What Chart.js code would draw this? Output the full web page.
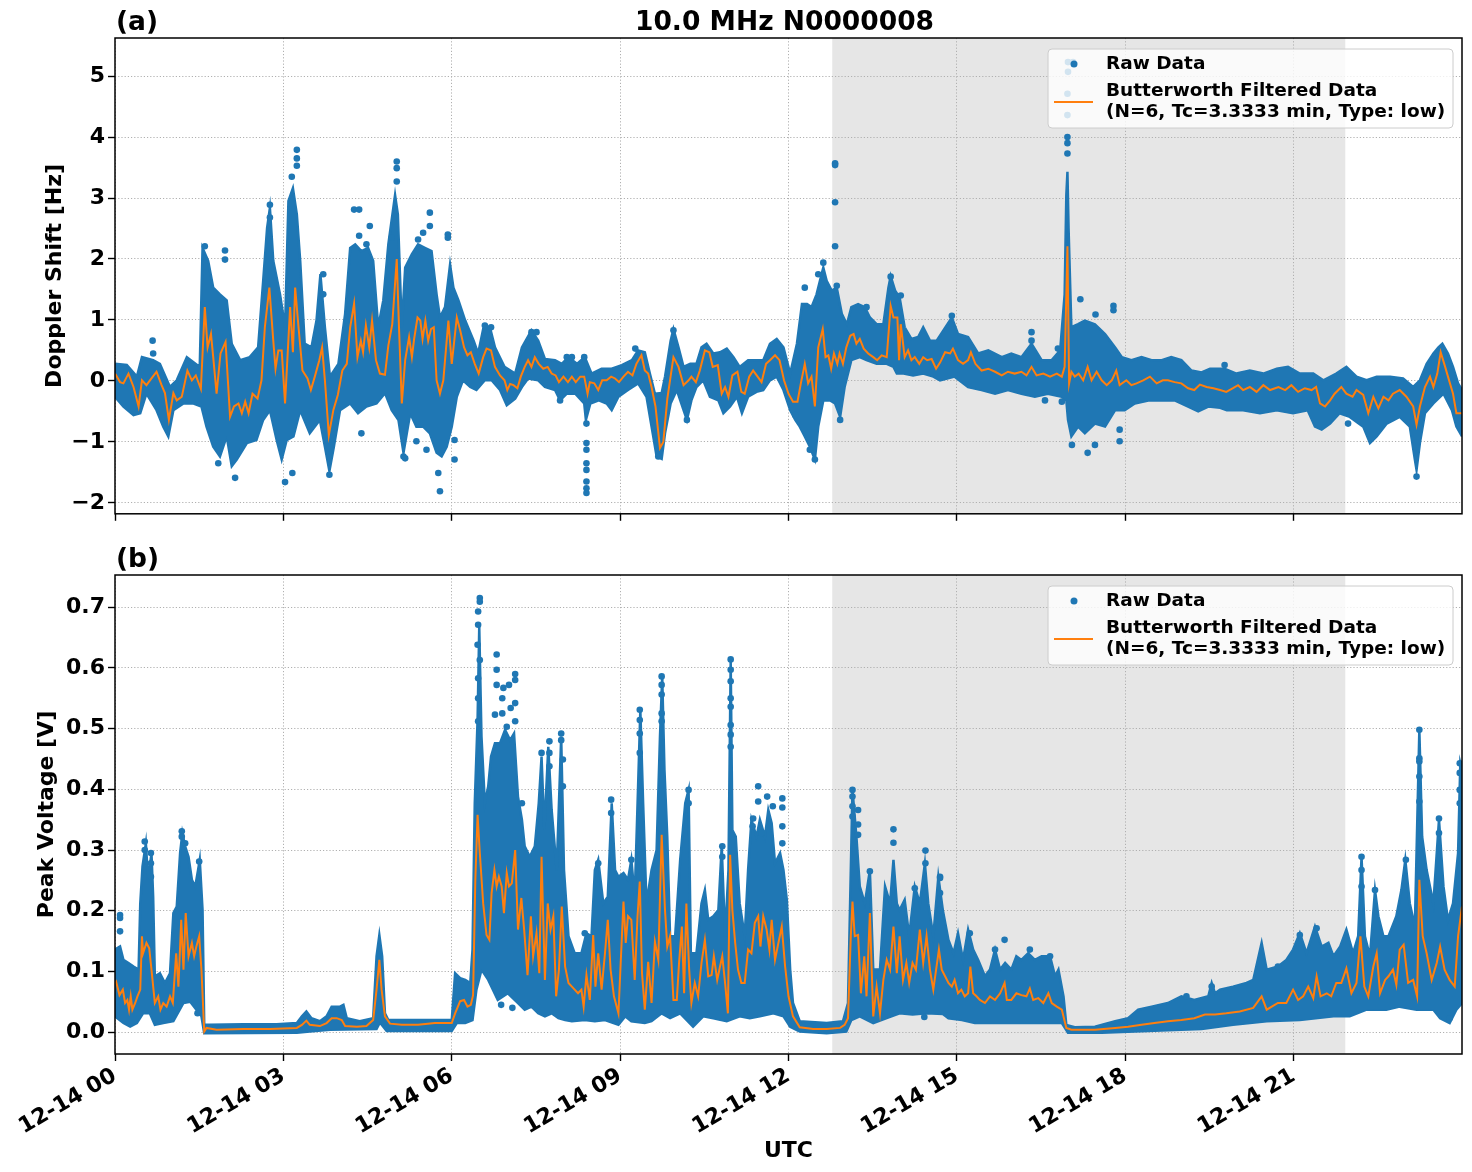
<!DOCTYPE html>
<html><head><meta charset="utf-8">
<script src="https://cdn.jsdelivr.net/npm/chart.js@4.4.1/dist/chart.umd.min.js"></script>
<style>
html,body{margin:0;padding:0;background:#fff;}
#wrap{position:relative;width:1472px;height:1172px;overflow:hidden;}
canvas{position:absolute;left:0;}
#cA{top:0;}
#cB{top:530px;}
</style></head><body>
<div id="wrap"><canvas id="cA" width="1472" height="530"></canvas><canvas id="cB" width="1472" height="642"></canvas></div>
<script>
// ---------------- DATA (hours after 12-14 00 UTC) ----------------
const tickHours = [0,3,6,9,12,15,18,21];
const tickLabels = ['12-14 00','12-14 03','12-14 06','12-14 09','12-14 12','12-14 15','12-14 18','12-14 21'];
const nightSpan = [12.78, 21.92];
const mainTitle = '10.0 MHz N0000008';
const legendRaw = 'Raw Data';
const legendFilt = ['Butterworth Filtered Data','(N=6, Tc=3.3333 min, Type: low)'];
const dopplerTicks = [-2,-1,0,1,2,3,4,5];
const voltTicks = [0,0.1,0.2,0.3,0.4,0.5,0.6,0.7];

// Panel (a): Doppler shift [Hz]
const dopplerFiltered = [[0.0,0.12],[0.09,-0.02],[0.15,-0.04],[0.24,0.12],[0.33,-0.1],[0.42,-0.42],[0.48,0.01],[0.56,-0.07],[0.65,0.04],[0.74,0.15],[0.83,-0.07],[0.89,-0.2],[0.96,-0.64],[1.04,-0.2],[1.1,-0.32],[1.19,-0.26],[1.29,0.17],[1.37,0.01],[1.44,0.09],[1.53,-0.13],[1.6,1.21],[1.65,0.55],[1.71,0.77],[1.75,0.39],[1.81,-0.21],[1.88,0.45],[1.97,0.64],[2.05,-0.59],[2.12,-0.42],[2.2,-0.37],[2.26,-0.53],[2.32,-0.34],[2.38,-0.53],[2.45,-0.21],[2.54,-0.29],[2.61,0.01],[2.67,0.88],[2.75,1.53],[2.82,0.66],[2.86,0.2],[2.91,0.5],[2.97,0.5],[3.03,-0.37],[3.12,1.21],[3.17,0.47],[3.21,1.53],[3.27,0.88],[3.34,0.17],[3.43,0.04],[3.49,-0.15],[3.56,0.07],[3.64,0.34],[3.69,0.55],[3.74,0.01],[3.81,-0.89],[3.89,-0.48],[3.97,-0.23],[4.05,0.17],[4.13,0.28],[4.19,0.88],[4.26,1.27],[4.32,0.39],[4.38,0.66],[4.42,0.47],[4.47,0.91],[4.53,0.55],[4.58,0.99],[4.65,0.34],[4.72,0.12],[4.81,0.1],[4.87,0.58],[4.94,0.93],[5.02,2.0],[5.06,0.88],[5.11,-0.37],[5.17,0.34],[5.24,0.72],[5.29,0.39],[5.33,0.69],[5.39,1.04],[5.44,0.99],[5.48,0.69],[5.53,0.99],[5.58,0.66],[5.63,0.85],[5.68,0.88],[5.73,0.01],[5.79,-0.21],[5.85,0.01],[5.94,0.99],[6.0,0.28],[6.09,1.04],[6.15,0.83],[6.22,0.55],[6.28,0.42],[6.34,0.47],[6.41,0.28],[6.48,0.12],[6.56,0.39],[6.62,0.53],[6.7,0.5],[6.77,0.23],[6.86,0.09],[6.94,0.01],[6.99,-0.15],[7.04,-0.05],[7.1,-0.07],[7.17,-0.12],[7.23,0.07],[7.3,0.23],[7.36,0.34],[7.42,0.23],[7.48,0.39],[7.55,0.28],[7.63,0.2],[7.71,0.23],[7.78,0.12],[7.85,0.09],[7.91,-0.02],[7.99,0.07],[8.07,-0.02],[8.14,0.07],[8.21,-0.02],[8.29,0.07],[8.36,0.07],[8.42,-0.21],[8.46,-0.02],[8.54,-0.04],[8.61,-0.15],[8.68,0.01],[8.76,0.01],[8.84,0.07],[8.91,0.04],[8.98,-0.02],[9.06,0.07],[9.14,0.15],[9.22,0.09],[9.29,0.28],[9.38,0.42],[9.44,0.17],[9.5,0.12],[9.56,-0.1],[9.63,-0.42],[9.71,-1.1],[9.77,-1.0],[9.84,-0.3],[9.95,0.39],[10.04,0.23],[10.13,-0.07],[10.22,0.01],[10.27,0.07],[10.35,-0.02],[10.42,0.17],[10.51,0.5],[10.59,0.47],[10.65,0.23],[10.74,0.26],[10.81,-0.21],[10.87,-0.1],[10.93,-0.26],[11.0,0.09],[11.09,0.15],[11.16,-0.18],[11.22,-0.21],[11.3,0.07],[11.37,0.17],[11.45,0.07],[11.52,-0.02],[11.6,0.28],[11.67,0.34],[11.76,0.42],[11.84,0.34],[11.92,0.01],[12.0,-0.21],[12.08,-0.34],[12.16,-0.34],[12.22,-0.04],[12.29,0.28],[12.35,-0.04],[12.41,0.07],[12.47,-0.42],[12.53,0.55],[12.61,0.85],[12.66,0.39],[12.71,0.42],[12.76,0.2],[12.81,0.45],[12.87,0.28],[12.91,0.45],[12.97,0.28],[13.03,0.55],[13.1,0.74],[13.16,0.77],[13.21,0.61],[13.27,0.69],[13.34,0.53],[13.42,0.45],[13.51,0.39],[13.58,0.34],[13.66,0.42],[13.75,0.39],[13.82,1.23],[13.87,1.04],[13.94,1.04],[13.97,0.34],[14.0,0.93],[14.07,0.39],[14.13,0.5],[14.19,0.34],[14.25,0.39],[14.33,0.28],[14.4,0.39],[14.47,0.34],[14.55,0.36],[14.63,0.2],[14.7,0.3],[14.79,0.47],[14.88,0.45],[14.93,0.53],[15.02,0.34],[15.11,0.28],[15.2,0.34],[15.25,0.47],[15.33,0.28],[15.44,0.17],[15.56,0.2],[15.68,0.15],[15.8,0.09],[15.91,0.15],[16.03,0.12],[16.15,0.15],[16.24,0.09],[16.33,0.23],[16.42,0.09],[16.54,0.12],[16.66,0.07],[16.78,0.12],[16.87,0.07],[16.92,0.23],[16.97,2.21],[17.0,-0.04],[17.04,0.15],[17.1,0.07],[17.17,0.12],[17.25,0.01],[17.33,0.23],[17.4,0.01],[17.49,0.15],[17.58,0.01],[17.67,-0.07],[17.76,0.01],[17.84,0.17],[17.9,-0.07],[18.02,0.01],[18.11,-0.07],[18.2,-0.04],[18.32,0.01],[18.44,0.07],[18.56,-0.04],[18.67,0.01],[18.76,0.01],[18.88,-0.02],[19.0,-0.04],[19.12,-0.12],[19.23,-0.15],[19.33,-0.06],[19.45,-0.1],[19.57,-0.12],[19.69,-0.15],[19.8,-0.18],[19.92,-0.12],[20.01,-0.07],[20.1,-0.15],[20.22,-0.1],[20.34,-0.18],[20.46,-0.07],[20.58,-0.15],[20.73,-0.1],[20.85,-0.15],[20.96,-0.07],[21.08,-0.18],[21.2,-0.12],[21.32,-0.15],[21.4,-0.1],[21.47,-0.37],[21.56,-0.42],[21.65,-0.32],[21.73,-0.21],[21.85,-0.1],[21.94,-0.21],[22.05,-0.26],[22.12,-0.15],[22.24,-0.23],[22.33,-0.53],[22.42,-0.26],[22.51,-0.45],[22.6,-0.26],[22.69,-0.32],[22.77,-0.21],[22.89,-0.15],[23.01,-0.26],[23.13,-0.42],[23.19,-0.72],[23.25,-0.42],[23.34,-0.1],[23.43,0.07],[23.49,-0.1],[23.56,0.12],[23.62,0.47],[23.7,0.23],[23.75,0.07],[23.84,-0.21],[23.9,-0.53],[24.0,-0.53]];

const dopplerUpper = [[0,0.28],[0.21,0.26],[0.39,0.07],[0.48,0.39],[0.68,0.34],[0.8,0.28],[0.98,-0.1],[1.1,0.01],[1.28,0.39],[1.51,0.23],[1.56,2.18],[1.66,1.97],[1.75,1.53],[1.87,1.42],[1.99,1.32],[2.08,0.61],[2.23,0.34],[2.4,0.39],[2.55,0.55],[2.64,1.64],[2.71,2.51],[2.76,2.84],[2.82,1.97],[2.94,1.42],[3.03,0.88],[3.09,2.95],[3.17,3.16],[3.24,2.73],[3.3,1.97],[3.38,0.61],[3.5,0.55],[3.59,0.99],[3.66,1.75],[3.74,0.88],[3.83,0.07],[3.98,0.28],[4.1,1.1],[4.19,2.18],[4.28,2.24],[4.39,2.13],[4.51,2.18],[4.6,1.97],[4.69,0.88],[4.78,1.32],[4.87,2.24],[4.99,3.05],[5.04,2.73],[5.11,0.88],[5.17,1.86],[5.29,2.08],[5.4,2.24],[5.53,2.18],[5.64,2.13],[5.73,1.42],[5.79,1.04],[5.88,1.21],[5.97,1.91],[6.03,1.53],[6.12,1.32],[6.24,0.99],[6.39,0.66],[6.47,0.45],[6.56,0.85],[6.68,0.88],[6.77,0.55],[6.94,0.23],[7.13,0.12],[7.25,0.55],[7.42,0.83],[7.54,0.66],[7.66,0.36],[7.84,0.34],[7.96,0.28],[8.08,0.39],[8.23,0.28],[8.37,0.39],[8.49,0.12],[8.67,0.2],[8.85,0.2],[9.03,0.26],[9.21,0.34],[9.32,0.5],[9.44,0.47],[9.53,0.12],[9.62,-0.21],[9.74,-0.2],[9.8,0.07],[9.9,0.66],[9.95,0.85],[10.04,0.55],[10.13,0.23],[10.25,0.28],[10.36,0.28],[10.45,0.55],[10.54,0.61],[10.66,0.45],[10.78,0.47],[10.9,0.53],[11.02,0.39],[11.13,0.23],[11.28,0.34],[11.43,0.34],[11.55,0.34],[11.67,0.61],[11.79,0.69],[11.91,0.55],[12.03,0.12],[12.15,0.61],[12.24,1.26],[12.33,1.26],[12.41,1.21],[12.5,1.42],[12.56,1.64],[12.62,1.86],[12.68,1.64],[12.77,1.48],[12.86,1.53],[12.95,1.1],[13.04,0.93],[13.12,1.21],[13.24,1.26],[13.36,1.21],[13.45,1.04],[13.57,0.93],[13.69,0.93],[13.78,1.53],[13.82,1.72],[13.9,1.48],[13.98,1.37],[14.07,0.88],[14.19,0.69],[14.31,0.72],[14.4,0.88],[14.52,0.66],[14.64,0.66],[14.76,0.83],[14.91,1.04],[15.02,0.77],[15.2,0.72],[15.38,0.45],[15.56,0.5],[15.8,0.39],[15.97,0.45],[16.15,0.39],[16.33,0.61],[16.51,0.34],[16.69,0.34],[16.84,0.5],[16.92,1.42],[16.95,3.05],[16.97,3.43],[16.99,2.51],[17.04,0.88],[17.16,0.93],[17.28,0.99],[17.46,0.93],[17.64,0.77],[17.82,0.55],[17.94,0.39],[18.11,0.34],[18.29,0.39],[18.47,0.34],[18.65,0.34],[18.82,0.39],[19.0,0.34],[19.18,0.17],[19.36,0.14],[19.51,0.2],[19.77,0.2],[19.98,0.12],[20.22,0.17],[20.46,0.12],[20.7,0.2],[20.9,0.23],[21.11,0.12],[21.35,0.12],[21.53,0.01],[21.76,0.12],[21.94,0.23],[22.12,0.07],[22.3,0.01],[22.48,0.07],[22.72,0.07],[22.95,0.04],[23.13,-0.1],[23.25,0.01],[23.37,0.28],[23.49,0.45],[23.58,0.55],[23.65,0.61],[23.75,0.45],[23.84,0.23],[23.93,-0.04],[24,-0.15]];

const dopplerLower = [[0,-0.26],[0.15,-0.42],[0.33,-0.56],[0.45,-0.53],[0.56,-0.21],[0.74,-0.48],[0.86,-0.75],[0.95,-0.91],[1.04,-0.48],[1.22,-0.37],[1.4,-0.37],[1.54,-0.42],[1.63,-0.75],[1.75,-1.08],[1.87,-1.24],[1.99,-0.91],[2.08,-1.4],[2.17,-1.29],[2.35,-1.02],[2.52,-0.97],[2.64,-0.64],[2.76,-0.48],[2.88,-0.97],[2.97,-1.29],[3.06,-0.97],[3.18,-0.91],[3.3,-0.48],[3.47,-0.86],[3.65,-0.64],[3.74,-1.08],[3.82,-1.48],[3.9,-1.08],[4.01,-0.48],[4.19,-0.37],[4.33,-0.53],[4.48,-0.42],[4.66,-0.37],[4.81,-0.2],[4.93,-0.48],[5.05,-0.64],[5.14,-1.18],[5.26,-0.53],[5.37,-0.75],[5.49,-0.75],[5.61,-0.86],[5.73,-1.18],[5.82,-1.24],[5.91,-1.08],[6.0,-0.75],[6.09,-0.26],[6.2,0.01],[6.33,-0.1],[6.44,-0.15],[6.59,0.01],[6.71,0.01],[6.86,-0.15],[6.98,-0.4],[7.13,-0.29],[7.25,-0.1],[7.36,0.04],[7.54,0.01],[7.66,-0.1],[7.84,-0.15],[7.93,-0.32],[8.05,-0.21],[8.2,-0.21],[8.36,-0.37],[8.39,-0.64],[8.47,-0.37],[8.62,-0.32],[8.76,-0.37],[8.85,-0.48],[8.97,-0.26],[9.14,-0.15],[9.32,-0.04],[9.47,-0.26],[9.56,-0.75],[9.65,-1.24],[9.74,-1.28],[9.8,-0.86],[9.9,-0.37],[10.01,-0.15],[10.13,-0.48],[10.19,-0.64],[10.27,-0.32],[10.36,-0.1],[10.48,0.01],[10.6,-0.26],[10.75,-0.32],[10.84,-0.53],[10.96,-0.42],[11.08,-0.26],[11.17,-0.53],[11.28,-0.26],[11.43,-0.18],[11.55,-0.15],[11.67,0.01],[11.79,0.07],[11.91,-0.15],[12.03,-0.48],[12.12,-0.64],[12.2,-0.75],[12.29,-0.91],[12.38,-1.08],[12.47,-1.29],[12.53,-0.75],[12.62,-0.32],[12.74,-0.32],[12.83,-0.37],[12.92,-0.59],[13.0,-0.1],[13.12,0.34],[13.27,0.39],[13.39,0.34],[13.57,0.28],[13.75,0.28],[13.87,0.23],[13.93,0.12],[14.05,0.12],[14.22,0.09],[14.4,0.12],[14.58,0.07],[14.7,0.01],[14.96,0.07],[15.2,-0.1],[15.44,-0.15],[15.68,-0.21],[15.91,-0.15],[16.15,-0.21],[16.39,-0.26],[16.62,-0.21],[16.87,-0.26],[16.95,-0.32],[16.98,-0.64],[17.04,-0.91],[17.16,-0.75],[17.28,-0.86],[17.46,-0.7],[17.64,-0.75],[17.82,-0.48],[17.99,-0.48],[18.17,-0.37],[18.41,-0.32],[18.65,-0.32],[18.88,-0.32],[19.12,-0.42],[19.3,-0.5],[19.48,-0.42],[19.69,-0.44],[19.81,-0.48],[20.1,-0.48],[20.4,-0.53],[20.7,-0.48],[20.99,-0.53],[21.25,-0.48],[21.38,-0.75],[21.5,-0.8],[21.65,-0.7],[21.82,-0.53],[22.0,-0.59],[22.24,-0.75],[22.36,-1.02],[22.48,-0.91],[22.66,-0.7],[22.89,-0.59],[23.07,-0.75],[23.16,-1.29],[23.19,-1.46],[23.25,-1.02],[23.34,-0.53],[23.49,-0.37],[23.67,-0.21],[23.82,-0.48],[23.9,-0.75],[24,-0.91]];

const dopplerOutliers = [[0.67,0.66],[0.68,0.45],[1.6,2.21],[1.96,2.14],[1.96,1.99],[1.84,-1.35],[2.14,-1.59],[2.76,2.89],[2.76,2.68],[3.03,-1.66],[3.16,-1.51],[3.24,3.79],[3.24,3.65],[3.24,3.53],[3.15,3.35],[3.71,1.75],[3.71,1.42],[3.82,-1.54],[4.26,2.81],[4.35,2.81],[4.54,2.54],[4.35,2.38],[4.39,-0.86],[4.48,2.24],[5.02,3.6],[5.02,3.49],[5.02,3.27],[4.93,2.35],[5.61,2.76],[5.61,2.54],[5.49,2.43],[5.4,2.32],[5.93,2.4],[5.93,2.35],[5.79,-1.81],[5.76,-1.51],[5.14,-1.24],[5.17,-1.27],[5.37,-0.99],[5.55,-1.13],[6.05,-1.29],[6.05,-0.97],[6.59,0.91],[6.7,0.88],[7.42,0.8],[7.51,0.8],[8.05,0.39],[8.14,0.39],[8.36,0.39],[8.4,-0.7],[8.4,-1.02],[8.4,-1.13],[8.4,-1.35],[8.4,-1.46],[8.4,-1.65],[8.4,-1.76],[8.4,-1.84],[7.93,-0.32],[9.27,0.53],[9.68,-1.24],[12.83,3.57],[12.83,3.54],[12.83,2.93],[12.83,2.21],[12.62,1.94],[12.29,1.53],[12.53,1.75],[12.86,1.56],[13.82,1.71],[14.0,1.4],[12.92,-0.64],[12.47,-1.29],[12.38,-1.13],[9.95,0.83],[10.19,-0.64],[12.12,-0.56],[13.39,1.21],[16.97,3.9],[16.97,4.0],[16.97,3.73],[16.97,4.36],[16.97,4.71],[16.98,5.07],[16.98,5.23],[17.07,5.23],[14.91,1.07],[16.33,0.8],[16.33,0.66],[17.2,1.34],[17.47,1.09],[17.79,1.23],[17.79,1.16],[17.33,-1.18],[17.46,-1.05],[17.05,-1.05],[17.9,-0.99],[17.9,-0.8],[16.8,0.53],[16.87,-0.34],[16.57,-0.32],[23.19,-1.57],[21.97,-0.7],[19.77,0.26]];

// Panel (b): Peak voltage [V]
const voltFiltered = [[0.0,0.08],[0.02,0.083],[0.08,0.061],[0.14,0.07],[0.18,0.048],[0.22,0.053],[0.25,0.037],[0.28,0.059],[0.31,0.037],[0.36,0.048],[0.4,0.059],[0.45,0.07],[0.48,0.158],[0.5,0.13],[0.56,0.147],[0.61,0.138],[0.65,0.103],[0.71,0.048],[0.77,0.059],[0.81,0.037],[0.86,0.048],[0.92,0.042],[0.98,0.059],[1.03,0.048],[1.09,0.13],[1.13,0.075],[1.18,0.185],[1.22,0.103],[1.26,0.196],[1.31,0.125],[1.37,0.147],[1.41,0.125],[1.45,0.141],[1.5,0.158],[1.54,0.103],[1.59,0.001],[1.63,0.007],[1.81,0.004],[2.29,0.005],[2.76,0.005],[3.24,0.007],[3.33,0.012],[3.41,0.019],[3.47,0.012],[3.65,0.01],[3.77,0.015],[3.86,0.023],[3.95,0.023],[4.04,0.02],[4.1,0.01],[4.31,0.009],[4.48,0.01],[4.6,0.02],[4.66,0.07],[4.71,0.119],[4.75,0.07],[4.81,0.026],[4.9,0.014],[5.11,0.012],[5.4,0.012],[5.7,0.015],[6.0,0.015],[6.06,0.031],[6.15,0.051],[6.22,0.053],[6.28,0.042],[6.34,0.045],[6.38,0.061],[6.42,0.251],[6.46,0.358],[6.5,0.295],[6.56,0.212],[6.62,0.16],[6.67,0.152],[6.71,0.229],[6.76,0.267],[6.8,0.24],[6.84,0.256],[6.89,0.24],[6.93,0.196],[6.98,0.262],[7.02,0.24],[7.07,0.245],[7.13,0.3],[7.18,0.169],[7.24,0.221],[7.29,0.169],[7.35,0.094],[7.41,0.191],[7.45,0.125],[7.51,0.163],[7.56,0.097],[7.6,0.289],[7.66,0.086],[7.71,0.212],[7.76,0.169],[7.81,0.191],[7.86,0.059],[7.91,0.103],[7.96,0.207],[8.02,0.108],[8.08,0.081],[8.14,0.075],[8.19,0.07],[8.25,0.064],[8.31,0.07],[8.35,0.042],[8.4,0.094],[8.46,0.053],[8.52,0.16],[8.56,0.075],[8.61,0.13],[8.67,0.07],[8.73,0.13],[8.78,0.185],[8.83,0.103],[8.89,0.059],[8.97,0.031],[9.01,0.114],[9.06,0.215],[9.1,0.147],[9.14,0.191],[9.2,0.185],[9.26,0.086],[9.31,0.191],[9.35,0.248],[9.39,0.097],[9.44,0.037],[9.5,0.116],[9.56,0.048],[9.62,0.149],[9.68,0.119],[9.74,0.325],[9.8,0.2],[9.84,0.141],[9.89,0.158],[9.95,0.053],[10.01,0.053],[10.05,0.114],[10.1,0.174],[10.14,0.064],[10.18,0.212],[10.23,0.103],[10.27,0.048],[10.33,0.081],[10.39,0.059],[10.45,0.114],[10.51,0.152],[10.57,0.092],[10.63,0.094],[10.67,0.125],[10.73,0.086],[10.78,0.108],[10.82,0.125],[10.87,0.081],[10.92,0.031],[10.96,0.292],[11.0,0.201],[11.05,0.147],[11.1,0.103],[11.16,0.081],[11.22,0.081],[11.28,0.136],[11.34,0.13],[11.4,0.18],[11.46,0.191],[11.5,0.141],[11.55,0.191],[11.61,0.169],[11.66,0.136],[11.7,0.185],[11.76,0.119],[11.82,0.147],[11.88,0.174],[11.94,0.108],[12.0,0.059],[12.08,0.026],[12.2,0.008],[12.44,0.005],[12.68,0.005],[12.92,0.007],[13.0,0.012],[13.06,0.023],[13.11,0.158],[13.14,0.215],[13.18,0.158],[13.24,0.16],[13.29,0.064],[13.35,0.125],[13.39,0.059],[13.45,0.196],[13.51,0.026],[13.57,0.075],[13.63,0.031],[13.69,0.086],[13.75,0.119],[13.81,0.103],[13.87,0.174],[13.93,0.097],[13.98,0.158],[14.04,0.086],[14.1,0.114],[14.15,0.081],[14.21,0.114],[14.27,0.103],[14.34,0.169],[14.4,0.114],[14.46,0.158],[14.52,0.103],[14.58,0.07],[14.63,0.103],[14.68,0.136],[14.73,0.103],[14.79,0.092],[14.85,0.081],[14.91,0.075],[14.96,0.086],[15.02,0.064],[15.08,0.07],[15.14,0.059],[15.2,0.064],[15.24,0.108],[15.29,0.064],[15.35,0.059],[15.41,0.053],[15.5,0.048],[15.59,0.059],[15.68,0.053],[15.77,0.064],[15.85,0.081],[15.89,0.053],[15.97,0.053],[16.06,0.064],[16.15,0.061],[16.24,0.059],[16.3,0.072],[16.36,0.053],[16.45,0.056],[16.54,0.048],[16.63,0.064],[16.69,0.048],[16.78,0.042],[16.87,0.037],[16.95,0.007],[17.04,0.004],[17.46,0.004],[17.82,0.007],[18.05,0.009],[18.29,0.012],[18.52,0.015],[18.76,0.018],[19.0,0.02],[19.23,0.023],[19.42,0.029],[19.6,0.029],[19.8,0.031],[20.04,0.034],[20.28,0.04],[20.43,0.059],[20.52,0.037],[20.72,0.048],[20.87,0.048],[20.99,0.07],[21.08,0.053],[21.17,0.059],[21.26,0.075],[21.35,0.056],[21.41,0.092],[21.48,0.059],[21.59,0.064],[21.67,0.059],[21.76,0.081],[21.85,0.081],[21.94,0.105],[22.03,0.064],[22.12,0.081],[22.19,0.158],[22.26,0.075],[22.33,0.059],[22.42,0.108],[22.48,0.13],[22.54,0.064],[22.63,0.086],[22.69,0.092],[22.77,0.103],[22.83,0.078],[22.89,0.136],[22.96,0.144],[23.04,0.081],[23.13,0.086],[23.2,0.059],[23.24,0.251],[23.3,0.158],[23.37,0.13],[23.46,0.086],[23.55,0.114],[23.61,0.141],[23.69,0.103],[23.78,0.086],[23.87,0.075],[23.93,0.158],[24.0,0.207]];

const voltUpper = [[0,0.136],[0.09,0.141],[0.15,0.119],[0.24,0.114],[0.33,0.108],[0.42,0.103],[0.45,0.212],[0.49,0.273],[0.55,0.311],[0.59,0.251],[0.65,0.295],[0.68,0.223],[0.71,0.092],[0.8,0.097],[0.89,0.081],[0.98,0.097],[1.04,0.196],[1.1,0.207],[1.16,0.295],[1.2,0.328],[1.25,0.306],[1.31,0.289],[1.37,0.251],[1.43,0.24],[1.48,0.267],[1.51,0.284],[1.56,0.201],[1.59,0.012],[1.69,0.012],[2.29,0.013],[2.88,0.013],[3.24,0.015],[3.33,0.026],[3.41,0.034],[3.5,0.023],[3.65,0.018],[3.77,0.026],[3.86,0.042],[4.01,0.042],[4.07,0.045],[4.13,0.023],[4.36,0.018],[4.6,0.023],[4.66,0.125],[4.71,0.16],[4.76,0.125],[4.81,0.031],[4.87,0.02],[6.0,0.02],[6.06,0.097],[6.15,0.089],[6.24,0.086],[6.33,0.081],[6.37,0.136],[6.41,0.377],[6.46,0.514],[6.49,0.668],[6.53,0.487],[6.59,0.377],[6.65,0.405],[6.7,0.454],[6.77,0.476],[6.86,0.476],[6.95,0.498],[7.04,0.481],[7.11,0.492],[7.18,0.388],[7.25,0.35],[7.3,0.306],[7.39,0.289],[7.48,0.306],[7.55,0.377],[7.6,0.454],[7.65,0.333],[7.72,0.47],[7.78,0.366],[7.87,0.267],[7.95,0.487],[8.0,0.267],[8.08,0.158],[8.19,0.13],[8.31,0.13],[8.4,0.163],[8.49,0.158],[8.55,0.267],[8.61,0.284],[8.7,0.212],[8.78,0.223],[8.85,0.377],[8.91,0.267],[8.97,0.256],[9.06,0.262],[9.14,0.251],[9.2,0.284],[9.26,0.223],[9.32,0.405],[9.36,0.531],[9.41,0.377],[9.47,0.212],[9.56,0.267],[9.65,0.3],[9.71,0.487],[9.75,0.586],[9.79,0.432],[9.84,0.322],[9.89,0.158],[9.98,0.158],[10.07,0.284],[10.16,0.377],[10.22,0.399],[10.26,0.13],[10.36,0.13],[10.45,0.212],[10.51,0.234],[10.57,0.185],[10.66,0.191],[10.75,0.201],[10.81,0.306],[10.87,0.158],[10.93,0.267],[10.97,0.613],[11.0,0.333],[11.06,0.322],[11.13,0.212],[11.22,0.158],[11.28,0.267],[11.34,0.35],[11.43,0.322],[11.49,0.35],[11.58,0.322],[11.64,0.366],[11.7,0.344],[11.76,0.278],[11.85,0.295],[11.91,0.267],[11.97,0.218],[12.03,0.103],[12.08,0.048],[12.2,0.018],[12.68,0.015],[12.97,0.018],[13.06,0.048],[13.11,0.267],[13.14,0.399],[13.21,0.322],[13.27,0.24],[13.36,0.212],[13.45,0.267],[13.51,0.103],[13.63,0.103],[13.72,0.24],[13.81,0.212],[13.87,0.284],[13.93,0.212],[13.98,0.201],[14.07,0.218],[14.15,0.158],[14.25,0.24],[14.34,0.212],[14.43,0.278],[14.49,0.212],[14.58,0.158],[14.67,0.256],[14.75,0.201],[14.85,0.152],[14.94,0.13],[15.02,0.163],[15.11,0.119],[15.2,0.169],[15.29,0.136],[15.38,0.119],[15.5,0.092],[15.59,0.103],[15.68,0.136],[15.77,0.103],[15.86,0.114],[15.97,0.103],[16.06,0.125],[16.15,0.119],[16.27,0.13],[16.39,0.119],[16.51,0.125],[16.66,0.125],[16.75,0.092],[16.81,0.103],[16.9,0.059],[16.95,0.012],[17.1,0.008],[17.46,0.009],[17.82,0.018],[18.05,0.023],[18.23,0.037],[18.47,0.042],[18.76,0.048],[19.0,0.059],[19.23,0.053],[19.48,0.059],[19.54,0.081],[19.6,0.064],[19.69,0.07],[19.92,0.075],[20.16,0.081],[20.28,0.086],[20.43,0.147],[20.52,0.103],[20.72,0.108],[20.87,0.119],[20.99,0.136],[21.11,0.163],[21.23,0.13],[21.38,0.174],[21.5,0.141],[21.62,0.147],[21.71,0.125],[21.83,0.141],[21.94,0.169],[22.06,0.13],[22.15,0.158],[22.21,0.289],[22.27,0.158],[22.36,0.125],[22.45,0.234],[22.51,0.191],[22.6,0.158],[22.69,0.158],[22.83,0.191],[22.92,0.234],[22.99,0.284],[23.07,0.212],[23.16,0.174],[23.24,0.498],[23.29,0.322],[23.37,0.267],[23.49,0.212],[23.59,0.35],[23.67,0.24],[23.75,0.185],[23.84,0.212],[23.93,0.295],[23.97,0.443],[24,0.432]];

const voltLower = [[0,0.026],[0.15,0.015],[0.27,0.009],[0.39,0.015],[0.5,0.031],[0.62,0.031],[0.71,0.012],[0.86,0.015],[1.04,0.018],[1.22,0.048],[1.34,0.05],[1.45,0.037],[1.54,0.026],[1.59,-0.002],[3.24,-0.001],[3.47,0.001],[3.83,0.004],[4.66,0.005],[4.72,0.016],[4.84,0.002],[6.0,0.002],[6.09,0.015],[6.24,0.015],[6.37,0.02],[6.44,0.07],[6.53,0.103],[6.65,0.086],[6.82,0.053],[7.0,0.064],[7.18,0.048],[7.3,0.037],[7.42,0.042],[7.54,0.031],[7.66,0.026],[7.78,0.031],[7.9,0.023],[8.02,0.02],[8.14,0.018],[8.37,0.02],[8.55,0.018],[8.73,0.02],[8.97,0.012],[9.09,0.026],[9.2,0.018],[9.44,0.015],[9.56,0.018],[9.74,0.031],[9.89,0.023],[10.07,0.031],[10.3,0.009],[10.48,0.026],[10.66,0.023],[10.9,0.018],[11.13,0.026],[11.31,0.023],[11.49,0.026],[11.73,0.031],[11.91,0.026],[12.03,0.009],[12.2,0.001],[12.68,-0.002],[13.03,0.001],[13.12,0.02],[13.27,0.026],[13.51,0.015],[13.75,0.023],[13.98,0.031],[14.21,0.029],[14.46,0.031],[14.75,0.03],[14.85,0.023],[15.09,0.02],[15.32,0.015],[16.87,0.015],[16.98,-0.001],[17.58,-0.001],[18.17,0.001],[18.76,0.003],[19.36,0.005],[19.92,0.012],[20.52,0.018],[21.11,0.02],[21.71,0.026],[22.0,0.026],[22.3,0.037],[22.65,0.037],[22.89,0.042],[23.19,0.037],[23.49,0.037],[23.61,0.023],[23.78,0.015],[23.9,0.037],[24,0.048]];

const voltOutliers = [[0.09,0.193],[0.09,0.188],[0.09,0.166],[0.53,0.314],[0.53,0.3],[0.64,0.295],[0.64,0.278],[0.64,0.256],[1.19,0.331],[1.19,0.322],[1.25,0.311],[1.5,0.281],[1.47,0.031],[6.5,0.715],[6.5,0.709],[6.47,0.693],[6.47,0.671],[6.46,0.638],[6.5,0.613],[6.47,0.583],[6.47,0.55],[6.47,0.512],[6.8,0.622],[6.8,0.597],[6.8,0.572],[6.92,0.567],[7.02,0.572],[7.13,0.59],[7.13,0.58],[7.13,0.542],[7.05,0.534],[6.9,0.525],[6.9,0.55],[6.77,0.523],[6.98,0.503],[7.13,0.512],[7.25,0.377],[6.88,0.045],[7.08,0.04],[7.74,0.479],[7.74,0.46],[7.74,0.438],[7.6,0.46],[7.95,0.492],[7.95,0.481],[7.98,0.449],[7.98,0.405],[8.37,0.163],[8.84,0.383],[8.84,0.361],[8.61,0.278],[9.35,0.531],[9.35,0.514],[9.35,0.492],[9.35,0.46],[9.74,0.586],[9.74,0.572],[9.74,0.556],[9.74,0.525],[9.74,0.512],[9.2,0.284],[10.22,0.399],[10.22,0.377],[10.82,0.306],[10.82,0.289],[10.97,0.614],[10.97,0.597],[10.97,0.578],[10.97,0.55],[10.97,0.536],[10.97,0.506],[10.97,0.49],[10.97,0.47],[11.46,0.405],[11.46,0.38],[11.62,0.388],[11.72,0.372],[11.89,0.385],[11.89,0.37],[11.89,0.339],[11.89,0.311],[11.37,0.352],[11.36,0.339],[11.52,0.328],[13.14,0.399],[13.14,0.388],[13.14,0.372],[13.14,0.355],[13.24,0.366],[13.24,0.342],[13.24,0.325],[13.45,0.265],[13.87,0.334],[13.87,0.312],[14.44,0.299],[14.44,0.278],[14.25,0.237],[14.7,0.256],[14.42,0.025],[14.7,0.254],[14.7,0.229],[14.7,0.201],[15.23,0.163],[15.85,0.152],[15.68,0.136],[16.3,0.136],[16.66,0.125],[19.54,0.075],[19.09,0.059],[22.21,0.289],[22.21,0.267],[22.21,0.24],[22.45,0.234],[21.41,0.171],[23.0,0.284],[23.24,0.498],[23.24,0.451],[23.24,0.446],[23.24,0.421],[23.24,0.38],[23.24,0.344],[23.59,0.352],[23.59,0.328],[23.96,0.443],[23.96,0.427],[23.96,0.399],[23.96,0.377],[23.78,0.023],[20.72,0.108],[21.11,0.16]];

// ---------------- RENDERING ----------------
const BLUE = '#1f77b4', ORANGE = '#ff7f0e';
const FAM = '"DejaVu Sans", "Liberation Sans", sans-serif';
Chart.defaults.font.family = FAM;
Chart.defaults.color = '#000';
const toXY = arr => arr.map(p => ({x: p[0], y: p[1]}));

function roundRectPath(ctx, x, y, w, h, r) {
  ctx.beginPath();
  ctx.moveTo(x + r, y);
  ctx.lineTo(x + w - r, y); ctx.quadraticCurveTo(x + w, y, x + w, y + r);
  ctx.lineTo(x + w, y + h - r); ctx.quadraticCurveTo(x + w, y + h, x + w - r, y + h);
  ctx.lineTo(x + r, y + h); ctx.quadraticCurveTo(x, y + h, x, y + h - r);
  ctx.lineTo(x, y + r); ctx.quadraticCurveTo(x, y, x + r, y);
  ctx.closePath();
}

function decoPlugin(panelLabel, titleText) {
  return {
    id: 'deco',
    beforeDraw(chart) {
      const {ctx, chartArea: a, scales: {x}} = chart;
      const x0 = x.getPixelForValue(nightSpan[0]), x1 = x.getPixelForValue(nightSpan[1]);
      ctx.save();
      ctx.fillStyle = 'rgba(128,128,128,0.2)';
      ctx.fillRect(x0, a.top, x1 - x0, a.bottom - a.top);
      ctx.restore();
    },
    afterDraw(chart) {
      const {ctx, chartArea: a} = chart;
      ctx.save();
      // frame
      ctx.strokeStyle = '#000'; ctx.lineWidth = 1.5;
      ctx.strokeRect(a.left, a.top, a.right - a.left, a.bottom - a.top);
      // legend
      const w = 405, h = 79;
      const bx = a.right - 9 - w, by = a.top + 11;
      roundRectPath(ctx, bx, by, w, h, 4);
      ctx.fillStyle = 'rgba(255,255,255,0.8)'; ctx.fill();
      ctx.strokeStyle = '#cccccc'; ctx.lineWidth = 1; ctx.stroke();
      ctx.fillStyle = BLUE;
      ctx.beginPath(); ctx.arc(bx + 26, by + 15, 3.5, 0, Math.PI * 2); ctx.fill();
      ctx.strokeStyle = ORANGE; ctx.lineWidth = 2;
      ctx.beginPath(); ctx.moveTo(bx + 6, by + 53); ctx.lineTo(bx + 45, by + 53); ctx.stroke();
      ctx.fillStyle = '#000';
      ctx.font = 'bold 18.5px ' + FAM; ctx.textAlign = 'left'; ctx.textBaseline = 'middle';
      ctx.fillText(legendRaw, bx + 58, by + 15);
      ctx.fillText(legendFilt[0], bx + 58, by + 42);
      ctx.fillText(legendFilt[1], bx + 58, by + 63);
      // titles
      ctx.textBaseline = 'alphabetic';
      ctx.font = 'bold 26.5px ' + FAM; ctx.textAlign = 'left';
      ctx.fillText(panelLabel, a.left + 1, a.top - 8);
      if (titleText) {
        ctx.textAlign = 'center';
        ctx.fillText(titleText, (a.left + a.right) / 2 - 4, a.top - 8);
      }
      ctx.restore();
    }
  };
}

function makePanel(canvasId, o) {
  const tickFont = {family: FAM, size: 22, weight: 'bold'};
  const grid = {color: '#b0b0b0', lineWidth: 1, drawTicks: true, tickLength: 7, tickColor: '#000', tickWidth: 1.4};
  const border = {display: false, dash: [1.2, 2]};
  return new Chart(document.getElementById(canvasId), {
    type: 'line',
    data: {
      datasets: [
        {type: 'line', label: legendFilt.join(' '), data: toXY(o.filtered), borderColor: ORANGE, borderWidth: 2, pointRadius: 0, fill: false, tension: 0, order: 0},
        {type: 'scatter', label: legendRaw, data: toXY(o.outliers), backgroundColor: BLUE, borderColor: BLUE, pointRadius: 3.3, pointBorderWidth: 0, order: 1},
        {type: 'line', label: 'raw-upper', data: toXY(o.upper), borderColor: BLUE, backgroundColor: BLUE, borderWidth: 2.5, pointRadius: 0, fill: 3, tension: 0, order: 2},
        {type: 'line', label: 'raw-lower', data: toXY(o.lower), borderColor: BLUE, backgroundColor: BLUE, borderWidth: 2.5, pointRadius: 0, fill: false, tension: 0, order: 3}
      ]
    },
    options: {
      responsive: false, animation: false, events: [],
      devicePixelRatio: 1,
      layout: {padding: {top: o.padTop, right: 10, left: 0, bottom: 0}},
      plugins: {legend: {display: false}, tooltip: {enabled: false}, title: {display: false}},
      scales: {
        x: {
          type: 'linear', min: 0, max: 24,
          afterBuildTicks: s => { s.ticks = tickHours.map(v => ({value: v})); },
          ticks: {display: o.showX, autoSkip: false, minRotation: 30, maxRotation: 30, font: tickFont, color: '#000', padding: 2,
                  callback: v => { const i = tickHours.indexOf(v); return i >= 0 ? tickLabels[i] : ''; }},
          grid: grid, border: border,
          title: {display: o.showX, text: 'UTC', font: {family: FAM, size: 22, weight: 'bold'}, color: '#000', padding: {top: 0, bottom: 8}},
          afterFit: s => { s.height = o.xHeight; }
        },
        y: {
          type: 'linear', min: o.yMin, max: o.yMax,
          afterBuildTicks: s => { s.ticks = o.yTicks.map(v => ({value: v})); },
          ticks: {font: tickFont, color: '#000', padding: 3, callback: o.fmt},
          grid: grid, border: border,
          title: {display: true, text: o.yTitle, font: {family: FAM, size: 22, weight: 'bold'}, color: '#000', padding: {top: o.yTitlePad, bottom: 0}},
          afterFit: s => { s.width = 115; }
        }
      }
    },
    plugins: [decoPlugin(o.label, o.title)]
  });
}

makePanel('cA', {
  filtered: dopplerFiltered, upper: dopplerUpper, lower: dopplerLower, outliers: dopplerOutliers,
  padTop: 38, xHeight: 12, showX: false, yMin: -2.18, yMax: 5.625, yTicks: dopplerTicks,
  fmt: v => (v < 0 ? '\u2212' + Math.abs(v) : String(v)),
  yTitle: 'Doppler Shift [Hz]', yTitlePad: 42, label: '(a)', title: mainTitle
});
makePanel('cB', {
  filtered: voltFiltered, upper: voltUpper, lower: voltLower, outliers: voltOutliers,
  padTop: 45, xHeight: 118, showX: true, yMin: -0.036, yMax: 0.753, yTicks: voltTicks,
  fmt: v => v.toFixed(1),
  yTitle: 'Peak Voltage [V]', yTitlePad: 34, label: '(b)', title: null
});
</script>
</body></html>
